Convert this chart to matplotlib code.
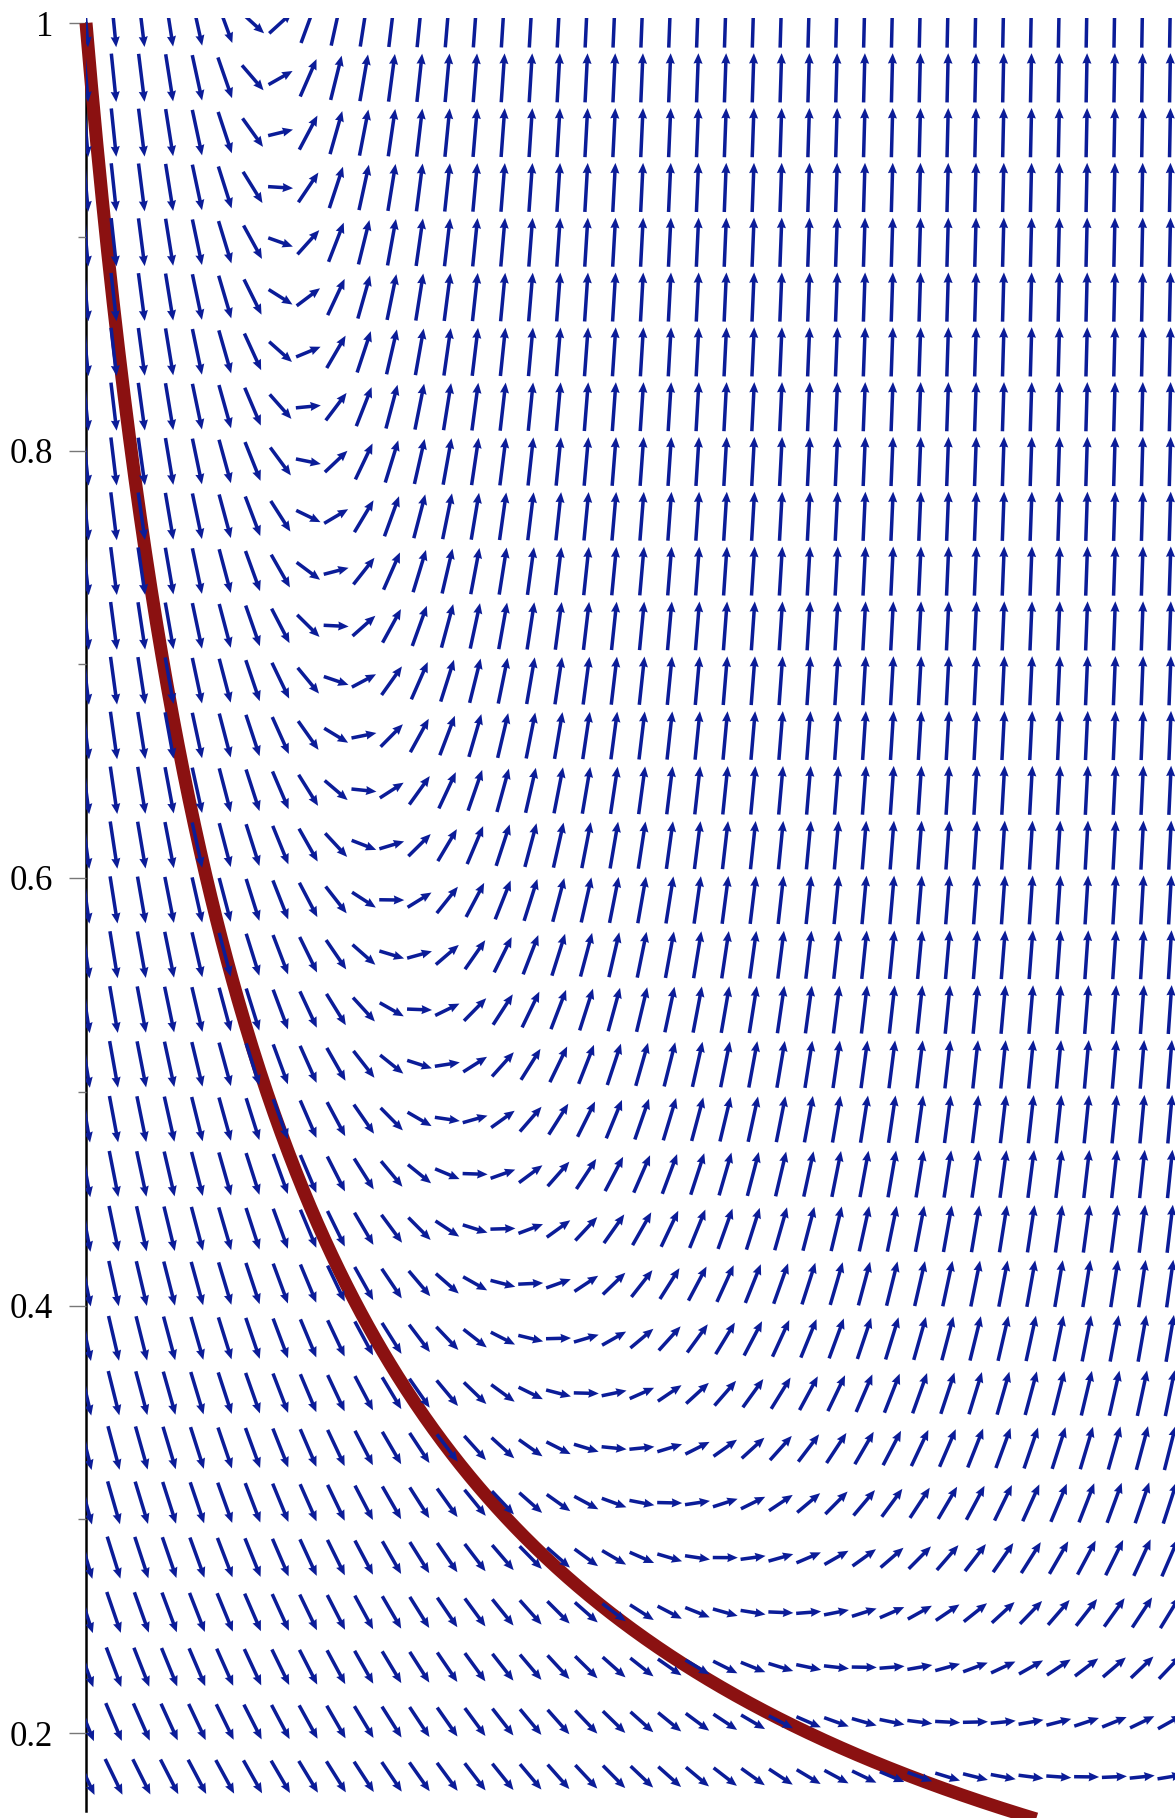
import numpy as np
import matplotlib.pyplot as plt
from matplotlib.transforms import Bbox, TransformedBbox

plt.rcParams['font.family'] = ['Liberation Serif', 'DejaVu Serif']

# slope field of dy/dx = x*y^2 - y, maple style dfieldplot
x_min, x_max = 0.0, 6.0
y_min, y_max = 0.0, 1.0
n_grid = 40
y_start = 1.0  # solution curve through (0, 1)
y_major = [0.2, 0.4, 0.6, 0.8, 1.0]
y_major_labels = ['0.2', '0.4', '0.6', '0.8', '1']
y_minor = [0.3, 0.5, 0.7, 0.9]

def slope(x, y):
    return x * y**2 - y

xs = np.linspace(x_min, x_max, n_grid)
ys = np.linspace(y_min, y_max, n_grid)
X, Y = np.meshgrid(xs, ys)
hx = xs[1] - xs[0]
hy = ys[1] - ys[0]

# arrows have the same length measured in grid cells
du = np.ones_like(X) / hx
dv = slope(X, Y) / hy
nrm = np.hypot(du, dv)
L = 0.9
U = L * hx * du / nrm
V = L * hy * dv / nrm

# solution curve y = 1/(1/y0 + x)
xc = np.linspace(x_min, x_max, 600)
yc = 1.0 / (1.0 / y_start + xc)

fig = plt.figure(figsize=(11.75, 18.18), dpi=100)
ax = fig.add_axes([0, 0, 1, 1])
px_x = 1084 / 6.0      # pixels per x unit
px_y = 2137.5          # pixels per y unit
y_bot = 0.2 - 78 / px_y
ax.set_xlim(-86 / px_x, x_max + 5 / px_x)
ax.set_ylim(0.2 - 85 / px_y, 1 + 23 / px_y)

ax.plot(xc, yc, color='#8b1111', lw=9.4, solid_capstyle='butt', zorder=2)

q = ax.quiver(X, Y, U, V, angles='xy', scale_units='xy', scale=1, pivot='middle',
              color='#0b1c98', units='dots', width=3.5, headwidth=2.6,
              headlength=3.0, headaxislength=2.8, zorder=3)
q.set_clip_box(TransformedBbox(Bbox([[0, y_bot], [10, 1 + 5 / px_y]]), ax.transData))

for s in ['top', 'right', 'bottom']:
    ax.spines[s].set_visible(False)
ax.spines['left'].set_position(('data', 0))
ax.spines['left'].set_bounds(y_bot, 1.0)
ax.spines['left'].set_linewidth(1.8)
ax.spines['left'].set_zorder(1)

ax.set_xticks([])
ax.set_yticks(y_major)
ax.set_yticklabels(y_major_labels, fontsize=25)
ax.set_yticks(y_minor, minor=True)
ax.tick_params(axis='y', which='major', direction='out', length=12.2, width=1.0,
               color='#777777', pad=11.5)
ax.tick_params(axis='y', which='minor', direction='out', length=5.8, width=1.0,
               color='#777777')

fig.savefig('out.png', dpi=100)
